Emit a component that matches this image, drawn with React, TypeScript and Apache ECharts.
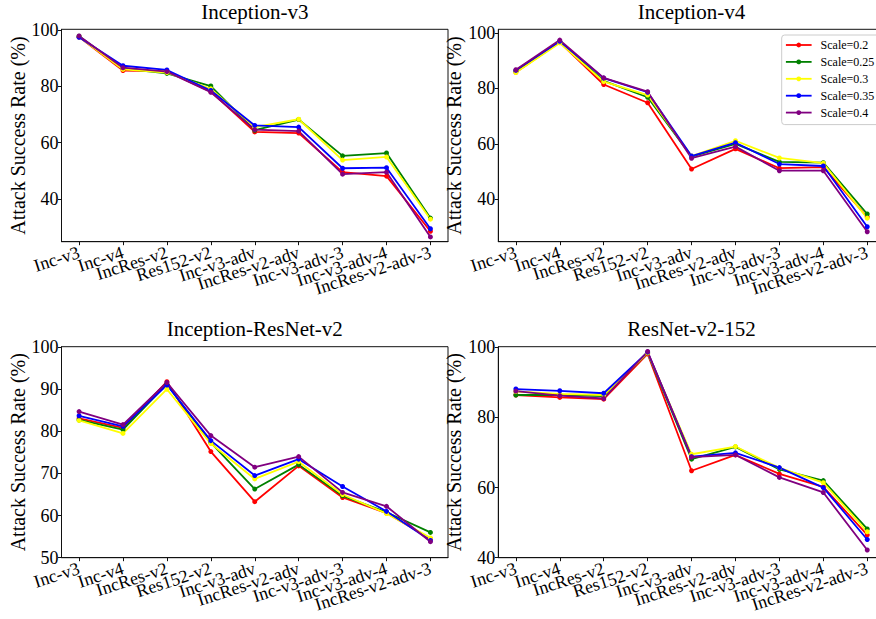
import React, { useEffect, useRef } from "react";
import * as echarts from "echarts";

const CATEGORIES = [
  "Inc-v3",
  "Inc-v4",
  "IncRes-v2",
  "Res152-v2",
  "Inc-v3-adv",
  "IncRes-v2-adv",
  "Inc-v3-adv-3",
  "Inc-v3-adv-4",
  "IncRes-v2-adv-3",
];

const SCALES = ["Scale=0.2", "Scale=0.25", "Scale=0.3", "Scale=0.35", "Scale=0.4"];
const COLORS = ["#ff0000", "#008000", "#ffff00", "#0000ff", "#800080"];

const TITLES = ["Inception-v3", "Inception-v4", "Inception-ResNet-v2", "ResNet-v2-152"];

// Inception-v3 panel
const incV3_s02 = [97.5, 85.6, 85.3, 78.1, 63.8, 63.4, 49.5, 48.1, 28.5];
const incV3_s025 = [97.8, 86.3, 84.6, 80.1, 64.4, 68.2, 55.3, 56.3, 33.2];
const incV3_s03 = [97.6, 86.0, 84.9, 79.1, 65.5, 68.3, 53.8, 54.9, 32.8];
const incV3_s035 = [97.4, 87.3, 85.8, 78.5, 66.1, 65.5, 50.9, 51.1, 29.4];
const incV3_s04 = [97.9, 86.6, 85.2, 77.9, 64.6, 64.1, 48.8, 49.5, 26.5];

// Inception-v4 panel
const incV4_s02 = [85.8, 96.6, 81.4, 74.8, 50.9, 58.2, 51.2, 51.6, 33.6];
const incV4_s025 = [86.3, 96.9, 82.7, 76.8, 55.4, 60.0, 53.5, 53.2, 34.7];
const incV4_s03 = [85.7, 96.4, 82.4, 77.6, 55.6, 61.1, 54.9, 53.0, 33.2];
const incV4_s035 = [86.5, 97.0, 83.7, 78.6, 55.6, 60.4, 52.7, 52.0, 30.1];
const incV4_s04 = [86.7, 97.4, 83.8, 78.8, 54.8, 59.0, 50.3, 50.3, 28.3];

// Inception-ResNet-v2 panel
const incRes_s02 = [83.1, 80.8, 91.8, 75.2, 63.3, 71.8, 64.3, 60.6, 54.5];
const incRes_s025 = [82.7, 80.4, 91.2, 77.3, 66.3, 72.1, 64.7, 60.8, 56.0];
const incRes_s03 = [82.6, 79.5, 90.0, 77.1, 68.7, 72.8, 65.0, 60.5, 54.7];
const incRes_s035 = [83.7, 81.2, 91.0, 77.8, 69.5, 73.4, 66.9, 61.0, 54.1];
const incRes_s04 = [84.7, 81.6, 91.6, 79.0, 71.5, 74.0, 65.5, 62.2, 53.8];

// ResNet-v2-152 panel
const res152_s02 = [86.4, 85.7, 85.2, 98.1, 64.8, 69.3, 63.9, 60.2, 46.5];
const res152_s025 = [86.4, 86.4, 86.1, 98.4, 68.1, 71.6, 65.2, 62.0, 48.2];
const res152_s03 = [87.4, 86.7, 86.4, 98.4, 69.5, 71.7, 65.6, 61.4, 47.4];
const res152_s035 = [88.1, 87.6, 86.9, 98.6, 68.8, 69.9, 65.7, 60.0, 45.2];
const res152_s04 = [87.5, 86.2, 85.4, 98.8, 68.7, 69.3, 62.9, 58.6, 42.2];

const PANEL_DATA = [
  [incV3_s02, incV3_s025, incV3_s03, incV3_s035, incV3_s04],
  [incV4_s02, incV4_s025, incV4_s03, incV4_s035, incV4_s04],
  [incRes_s02, incRes_s025, incRes_s03, incRes_s035, incRes_s04],
  [res152_s02, res152_s025, res152_s03, res152_s035, res152_s04],
];

const Y_TICKS_1 = [40, 60, 80, 100];
const Y_TICKS_2 = [40, 60, 80, 100];
const Y_TICKS_3 = [50, 60, 70, 80, 90, 100];
const Y_TICKS_4 = [40, 60, 80, 100];
const Y_TICKS = [Y_TICKS_1, Y_TICKS_2, Y_TICKS_3, Y_TICKS_4];
const Y_MIN = [24.8, 24.7, 50, 40];
const Y_MAX = [100.25, 101.3, 100.1, 100.17];

const FONT = "'Liberation Serif', 'Times New Roman', serif";

const GRIDS = [
  { left: 61.5, top: 29.3, width: 386.5, height: 212.4 },
  { left: 498.3, top: 29.3, width: 386.5, height: 212.4 },
  { left: 61.5, top: 346.7, width: 386.5, height: 211 },
  { left: 498.3, top: 346.7, width: 386.5, height: 211 },
];

const TITLE_POS = [
  { x: 254.8, y: 12 },
  { x: 691.5, y: 12 },
  { x: 254.8, y: 329 },
  { x: 691.5, y: 329 },
];

function buildOption() {
  const xIdx = CATEGORIES.map((_, i) => i);
  // labels split over two overlaid axes so that the library does not drop overlapping neighbours
  const evenIdx = xIdx.filter((i) => i % 2 === 0);
  const oddIdx = xIdx.filter((i) => i % 2 === 1);
  const grid = GRIDS.map((g) => ({
    ...g,
    show: true,
    borderColor: "#111",
    borderWidth: 1,
    backgroundColor: "transparent",
    containLabel: false,
    outerBoundsMode: "none",
  }));
  const labelBase = {
    show: true,
    formatter: (v: number) => CATEGORIES[Math.round(v)],
    rotate: 18,
    align: "right",
    verticalAlign: "middle",
    margin: 10,
    fontSize: 18,
    fontFamily: FONT,
    color: "#000",
    hideOverlap: false,
    showMinLabel: true,
    showMaxLabel: true,
  };
  const xAxis: any[] = [];
  GRIDS.forEach((_, p) => {
    xAxis.push({
      type: "value",
      gridIndex: p,
      position: "bottom",
      min: -0.4,
      max: 8.4,
      axisLine: { show: true, onZero: false, lineStyle: { color: "#111", width: 1 } },
      axisTick: { show: true, inside: false, length: 3.5, customValues: xIdx, lineStyle: { color: "#111" } },
      axisLabel: { ...labelBase, customValues: evenIdx },
      splitLine: { show: false },
    });
    xAxis.push({
      type: "value",
      gridIndex: p,
      position: "bottom",
      offset: 0,
      min: -0.4,
      max: 8.4,
      axisLine: { show: false, onZero: false },
      axisTick: { show: false },
      axisLabel: { ...labelBase, customValues: oddIdx },
      splitLine: { show: false },
    });
  });
  const yAxis = GRIDS.map((_, p) => ({
    type: "value",
    gridIndex: p,
    min: Y_MIN[p],
    max: Y_MAX[p],
    name: "Attack Success Rate (%)",
    nameLocation: "middle",
    nameGap: 23.5,
    nameTextStyle: { fontSize: 20, fontFamily: FONT, color: "#000" },
    axisLine: { show: true, onZero: false, lineStyle: { color: "#111", width: 1 } },
    axisTick: { show: true, inside: false, length: 3.5, customValues: Y_TICKS[p], lineStyle: { color: "#111" } },
    axisLabel: {
      show: true,
      customValues: Y_TICKS[p],
      margin: 3,
      fontSize: 18,
      fontFamily: FONT,
      color: "#000",
      showMinLabel: true,
      showMaxLabel: true,
    },
    splitLine: { show: false },
  }));
  const series: any[] = [];
  PANEL_DATA.forEach((panel, p) => {
    panel.forEach((vals, s) => {
      series.push({
        type: "line",
        name: SCALES[s],
        xAxisIndex: 2 * p,
        yAxisIndex: p,
        data: vals.map((v, i) => [i, v]),
        color: COLORS[s],
        symbol: "circle",
        symbolSize: 5,
        showSymbol: true,
        lineStyle: { width: 1.8, color: COLORS[s] },
        itemStyle: { color: COLORS[s] },
        emphasis: { disabled: true },
      });
    });
  });
  const graphic = TITLES.map((t, i) => ({
    type: "text",
    x: TITLE_POS[i].x,
    y: TITLE_POS[i].y,
    style: {
      text: t,
      font: `21px ${FONT}`,
      fill: "#000",
      align: "center",
      verticalAlign: "middle",
      textAlign: "center",
      textVerticalAlign: "middle",
    },
  }));
  return {
    animation: false,
    backgroundColor: "#fff",
    grid,
    xAxis,
    yAxis,
    series,
    graphic,
    legend: {
      show: true,
      orient: "vertical",
      left: 781.7,
      top: 35,
      itemWidth: 25.7,
      itemHeight: 6,
      itemGap: 4.9,
      padding: [4, 6, 6, 3.3],
      borderColor: "#ccc",
      borderWidth: 1,
      borderRadius: 3,
      backgroundColor: "#fff",
      selectedMode: false,
      lineStyle: { width: 1.8 },
      textStyle: { fontSize: 12, fontFamily: FONT, color: "#000", padding: [0, 0, 0, 4] },
      data: SCALES,
    },
  };
}

export default function App() {
  const ref = useRef<HTMLDivElement>(null);
  useEffect(() => {
    if (!ref.current) return;
    const chart = echarts.init(ref.current, null, { renderer: "svg" });
    chart.setOption(buildOption() as any);
    return () => chart.dispose();
  }, []);
  return (
    <div
      ref={ref}
      style={{
        position: "fixed",
        left: 0,
        top: 0,
        width: 876,
        height: 619,
        overflow: "hidden",
        background: "#fff",
      }}
    />
  );
}
